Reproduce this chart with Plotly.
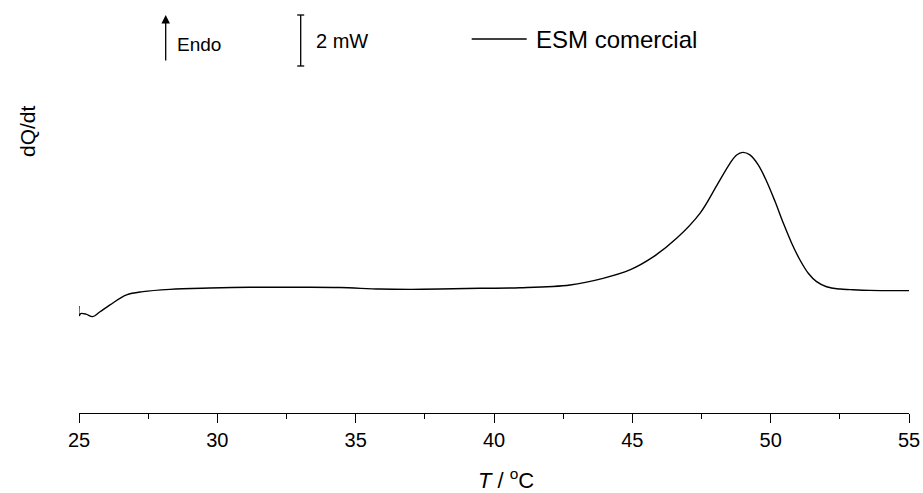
import plotly.graph_objects as go

# Temperature (°C) and heat flow (mW, arbitrary offset)
T = [25.00, 25.01, 25.06, 25.25, 25.50, 25.76, 26.12, 26.72, 27.31, 28.29,
     29.73, 31.18, 33.00, 34.43, 35.88, 37.00, 38.05, 39.50, 40.94, 42.75,
     43.94, 44.91, 45.74, 46.61, 47.45, 48.05, 48.53, 48.77, 48.99, 49.25,
     49.55, 49.86, 50.16, 50.46, 50.76, 51.06, 51.36, 51.66, 52.02, 52.51,
     52.87, 53.59, 55.00]
dQdt = [4.20, 3.82, 3.90, 3.88, 3.78, 3.97, 4.24, 4.63, 4.76, 4.85,
        4.90, 4.93, 4.93, 4.92, 4.86, 4.85, 4.86, 4.89, 4.91, 5.02,
        5.28, 5.61, 6.11, 6.86, 7.84, 8.92, 9.79, 10.12, 10.22, 10.12,
        9.73, 9.07, 8.29, 7.44, 6.66, 6.00, 5.48, 5.15, 4.95, 4.86,
        4.84, 4.81, 4.80]

series_name = "ESM comercial"
x_ticks = [25, 30, 35, 40, 45, 50, 55]
scale_bar_mW = 2

FONT = "Arial, Liberation Sans, sans-serif"

fig = go.Figure()
fig.add_trace(go.Scatter(x=T, y=dQdt, mode="lines", name=series_name,
                         line=dict(color="black", width=1.4, shape="spline", smoothing=1.0),
                         showlegend=False))

W, H = 923, 493
L, R, TOP, B = 79, 14, 0, 80
pw, ph = W - L - R, H - TOP - B
ymax = ph / 25.5

def px2x(px):
    return 25 + (px - L) / pw * 30

def py2y(py):
    return (TOP + ph - py) / 25.5

fig.update_layout(
    width=W, height=H,
    margin=dict(l=L, r=R, t=TOP, b=B),
    paper_bgcolor="white", plot_bgcolor="white",
    font=dict(family=FONT, color="black", size=20),
    xaxis=dict(range=[25, 55], tickvals=x_ticks, ticktext=[str(v) for v in x_ticks],
               showline=True, linecolor="black", linewidth=1.3,
               ticks="outside", ticklen=9, tickwidth=1.3, tickcolor="black",
               minor=dict(dtick=2.5, tick0=25, ticks="outside", ticklen=5, tickwidth=1.3, tickcolor="black"),
               showgrid=False, zeroline=False, tickfont=dict(size=20)),
    yaxis=dict(range=[0, ymax], visible=False, showgrid=False, zeroline=False),
)

# axis titles
fig.add_annotation(text="<i>T</i> / <sup>o</sup>C", xref="paper", yref="paper",
                   x=(506 - L) / pw, y=(TOP + ph - 479) / ph, showarrow=False,
                   xanchor="center", yanchor="middle", font=dict(size=22))
fig.add_annotation(text="dQ/dt", xref="paper", yref="paper",
                   x=(27 - L) / pw, y=(TOP + ph - 131) / ph, showarrow=False,
                   textangle=-90, xanchor="center", yanchor="middle", font=dict(size=21))

# Endo arrow
fig.add_annotation(x=px2x(165.7), y=py2y(15), ax=0, ay=47, text="", showarrow=True,
                   arrowhead=2, arrowsize=1.3, arrowwidth=1.3, arrowcolor="black")
fig.add_annotation(text="Endo", x=px2x(175), y=py2y(44), showarrow=False,
                   xanchor="left", yanchor="middle", font=dict(size=19))

# 2 mW scale bar
yb0 = py2y(66)
xb = px2x(300.7)
dxc = 3.5 / pw * 30
fig.add_shape(type="line", x0=xb, x1=xb, y0=yb0, y1=yb0 + scale_bar_mW, line=dict(color="black", width=1.3))
fig.add_shape(type="line", x0=xb - dxc, x1=xb + dxc, y0=yb0, y1=yb0, line=dict(color="black", width=1.3))
fig.add_shape(type="line", x0=xb - dxc, x1=xb + dxc, y0=yb0 + scale_bar_mW, y1=yb0 + scale_bar_mW,
              line=dict(color="black", width=1.3))
fig.add_annotation(text=f"{scale_bar_mW} mW", x=px2x(314), y=py2y(41), showarrow=False,
                   xanchor="left", yanchor="middle", font=dict(size=20))

# legend drawn manually
fig.add_shape(type="line", x0=px2x(471.7), x1=px2x(526.7), y0=py2y(39), y1=py2y(39),
              line=dict(color="black", width=1.4))
fig.add_annotation(text=series_name, x=px2x(534), y=py2y(39), showarrow=False,
                   xanchor="left", yanchor="middle", font=dict(size=24))

fig.write_html("out.html")
